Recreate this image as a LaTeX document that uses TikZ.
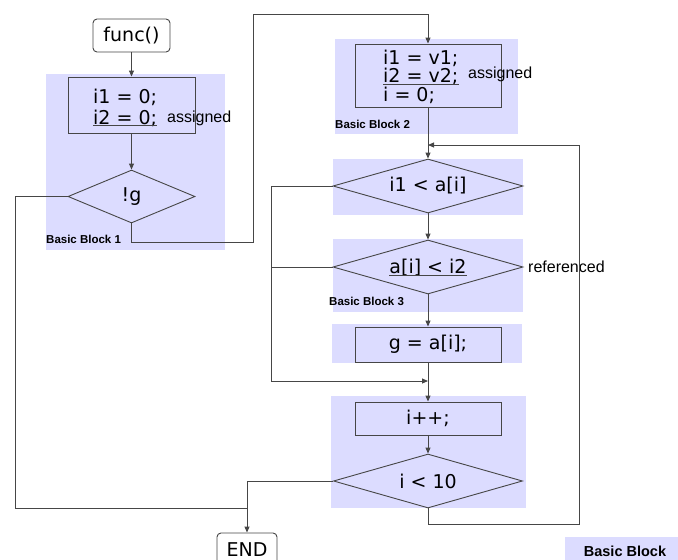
\documentclass[tikz,border=0pt]{standalone}
\usepackage{fontspec}
\setmainfont{DejaVu Sans}
\newfontfamily\notefont{Liberation Sans}
\usetikzlibrary{shapes.geometric,arrows.meta}
\definecolor{blockLavender}{RGB}{220,220,255}
\definecolor{flowGray}{RGB}{70,70,70}

\begin{document}
\begin{tikzpicture}[x=1pt,y=-1pt,
  flow/.style={draw=flowGray, line width=0.9pt},
  arrow/.style={flow, -{Triangle[length=6pt,width=5pt]}},
  terminal/.style={flow, fill=white, rounded corners=4pt, minimum height=33pt, inner sep=0pt, font=\fontsize{19}{22}\selectfont},
  stmt/.style={flow, inner sep=0pt, font=\fontsize{19}{22}\selectfont},
  cond/.style={flow, diamond, aspect=3.5, inner sep=0pt, font=\fontsize{19}{22}\selectfont},
  code/.style={inner sep=0pt, anchor=base west, font=\fontsize{19}{22}\selectfont},
  note/.style={inner sep=0pt, anchor=base west, font=\notefont\fontsize{16}{18}\selectfont},
  bblabel/.style={inner sep=0pt, anchor=west, font=\notefont\bfseries\fontsize{11.5}{13}\selectfont}]
\useasboundingbox (0,0) rectangle (678,560);

% basic blocks
\fill[blockLavender] (46,74) rectangle (225,250);
\fill[blockLavender] (335,39) rectangle (518,134);
\fill[blockLavender] (333,159) rectangle (523,215);
\fill[blockLavender] (333,239) rectangle (523,312);
\fill[blockLavender] (332,324) rectangle (522,363);
\fill[blockLavender] (331,396) rectangle (526,508);
\fill[blockLavender] (565,537) rectangle (678,560);

% block 1
\node[terminal, minimum width=77pt] (func) at (131.5,35.5) {func()};
\node[stmt, minimum width=127pt, minimum height=56pt] (init1) at (131.5,105) {};
\node[code] (i1a) at (93,103) {i1 = 0;};
\node[code] (i2a) at (93,124) {i2 = 0;};
\draw[flow] ([yshift=-1.5pt]i2a.base west) -- ([yshift=-1.5pt]i2a.base east);
\node[note] (asg1) at (167,122) {assigned};
\node[cond, minimum width=127pt, minimum height=53pt] (notg) at (131.5,196.5) {!g};
\node[bblabel] (bb1) at (46,239) {Basic Block 1};

% block 2
\node[stmt, minimum width=146pt, minimum height=63pt] (init2) at (428,75.5) {};
\node[code] (i1b) at (383,64.5) {i1 = v1;};
\node[code] (i2b) at (383,82.5) {i2 = v2;};
\draw[flow] ([yshift=-1.5pt]i2b.base west) -- ([yshift=-1.5pt]i2b.base east);
\node[code] (ib) at (383,101.5) {i = 0;};
\node[note] (asg2) at (468,78) {assigned};
\node[bblabel] (bb2) at (335,124) {Basic Block 2};

% block 3
\node[cond, minimum width=190pt, minimum height=54pt] (lt1) at (428,186) {i1 < a[i]};
\node[cond, minimum width=190pt, minimum height=54pt] (lt2) at (428,267) {};
\node[code, anchor=base] (ref) at (428,273) {a[i] < i2};
\draw[flow] ([yshift=-2pt]ref.base west) -- ([yshift=-2pt]ref.base east);
\node[note] (refd) at (528,272) {referenced};
\node[bblabel] (bb3) at (329,301) {Basic Block 3};
\node[stmt, minimum width=146pt, minimum height=35pt] (store) at (428,344.5) {g = a[i];};

% block 4
\node[stmt, minimum width=146pt, minimum height=33pt] (inc) at (428,418.5) {i++;};
\node[cond, minimum width=189pt, minimum height=54pt] (lt3) at (428,481) {i < 10};

\node[terminal, minimum width=60pt] (end) at (247,549.5) {END};
\node[font=\notefont\bfseries\fontsize{14.5}{16}\selectfont, inner sep=0pt] (legend) at (625,551) {Basic Block};

% edges
\coordinate (merge) at (428,381);
\coordinate (loopin) at (428,145);
\draw[arrow] (func) -- (init1);
\draw[arrow] (init1) -- (notg);
\draw[arrow] (notg.south) -- ++(0,19) -| (253,14) -| (init2.north);
\draw[flow] (notg.west) -| (15,508) -- (247,508);
\draw[arrow] (init2) -- (lt1);
\draw[arrow] (lt1) -- (lt2);
\draw[arrow] (lt2) -- (store);
\draw[arrow] (store) -- (inc);
\draw[arrow] (lt1.west) -| (271,381) -- (merge);
\draw[flow] (lt2.west) -- ++(-62,0);
\draw[arrow] (inc) -- (lt3);
\draw[arrow] (lt3.south) -- ++(0,16) -| (579,145) -- (loopin);
\draw[arrow] (lt3.west) -| (end.north);
\end{tikzpicture}
\end{document}
